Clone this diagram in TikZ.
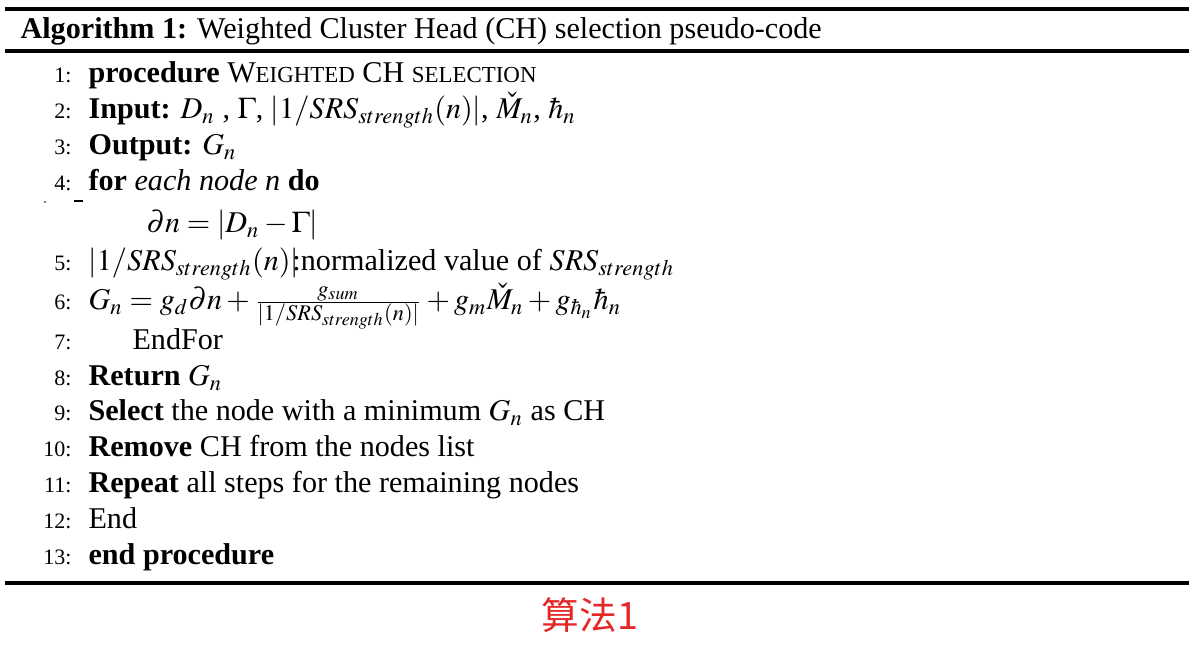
\documentclass[tikz,border=0pt]{standalone}
\usepackage{amsmath}
\usepackage{mathptmx}
\usepackage{fontspec}
\setmainfont{Liberation Serif}
\newfontfamily\cjk{Noto Sans CJK SC}
\definecolor{capred}{RGB}{228,40,40}
\newcommand{\fakesc}[1]{{\fontsize{7.9}{9}\selectfont #1}}
\newcommand{\srs}{|1/SRS_{strength}(n)|}
\tikzset{
  line/.style={anchor=base west, inner sep=0pt, font=\fontsize{10.4}{12}\selectfont},
  num/.style={anchor=base east, inner sep=0pt, font=\fontsize{7.6}{9}\selectfont},
  rule/.style={line width=1.05pt}
}

\begin{document}
\begin{tikzpicture}[x=0.345pt,y=-0.345pt]
    \useasboundingbox (0,0) rectangle (1195,647);
    \draw[rule] (5,9) -- (1189,9);
    \draw[rule] (5,51) -- (1189,51);
    \draw[rule] (5,583) -- (1189,583);
    \node[line] (cap) at (20,39) {\textbf{Algorithm 1:} Weighted Cluster Head (CH) selection pseudo-code};
    \foreach \n/\y in {1/83, 2/119, 3/155, 4/191, 5/271, 6/310, 7/350, 8/386, 9/421, 10/457, 11/493, 12/529, 13/565}
        \node[num] (n\n) at (72,\y) {\n:};
    \node[line] (l1) at (88,83) {\textbf{procedure} W\fakesc{EIGHTED} CH \fakesc{SELECTION}};
    \node[line] (l2) at (88,119) {\textbf{Input:} $D_n$ , $\Gamma$, $\srs$, $\check{M}_n$, $\hbar_n$};
    \node[line] (l3) at (88,155) {\textbf{Output:} $G_n$};
    \node[line] (l4) at (88,191) {\textbf{for} \textit{each node n} \textbf{do}};
    \draw[line width=0.4pt] (74,201) -- (83,201);
    \fill (45,202) circle (0.8);
    \node[line] (l4b) at (146,233) {$\partial n = |D_n - \Gamma|$};
    \node[line] (l5) at (88,271) {$\srs$\kern-2.2pt:normalized value of $SRS_{strength}$};
    \node[line] (l6) at (88,310) {$G_n = g_d\partial n + \frac{g_{sum}}{\srs} + g_m\check{M}_n + g_{\hbar_n}\hbar_n$};
    \node[line] (l7) at (132,350) {EndFor};
    \node[line] (l8) at (88,386) {\textbf{Return} $G_n$};
    \node[line] (l9) at (88,421) {\textbf{Select} the node with a minimum $G_n$ as CH};
    \node[line] (l10) at (88,457) {\textbf{Remove} CH from the nodes list};
    \node[line] (l11) at (88,493) {\textbf{Repeat} all steps for the remaining nodes};
    \node[line] (l12) at (88,529) {End};
    \node[line] (l13) at (88,565) {\textbf{end procedure}};
    \node[anchor=base, inner sep=0pt, text=capred, font=\fontsize{13}{15}\selectfont] (alg) at (590,630) {\cjk 算法1};
\end{tikzpicture}
\end{document}
